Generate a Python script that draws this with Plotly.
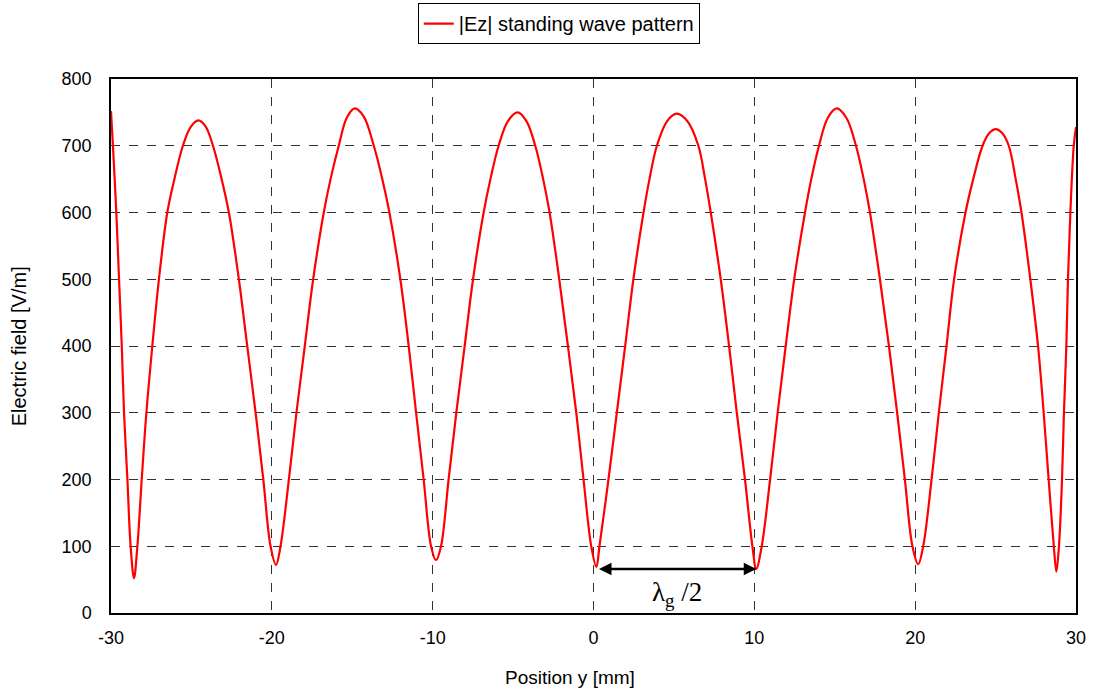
import plotly.graph_objects as go

# Position y [mm] and |Ez| [V/m]
Y_POS = [
    -30.0, -29.88, -29.67, -29.50, -29.33, -29.19, -28.98, -28.78, -28.57,
    -28.36, -28.09, -27.80, -27.43, -27.02, -26.50, -26.06, -25.53, -25.05, -24.57, -24.12,
    -23.66, -23.12, -22.67, -22.05, -21.53, -21.01, -20.53, -20.08, -19.74,
    -19.46, -18.94, -18.47, -17.95, -17.43, -16.77, -16.35, -15.84, -15.34, -14.84, -14.29,
    -13.66, -13.13, -12.69, -12.01, -11.49, -11.03, -10.56, -10.10, -9.79,
    -9.48, -9.01, -8.53, -8.01, -7.49, -6.83, -6.41, -5.90, -5.32, -4.72, -4.17,
    -3.62, -3.13, -2.73, -2.13, -1.59, -1.07, -0.62, -0.14, 0.18,
    0.37, 0.93, 1.45, 1.97, 2.48, 3.11, 3.48, 3.94, 4.58, 5.18, 5.83,
    6.52, 6.94, 7.29, 7.91, 8.43, 8.91, 9.42, 9.88, 10.12,
    10.46, 10.98, 11.45, 11.95, 12.48, 13.15, 13.54, 14.02, 14.57, 15.12, 15.72,
    16.32, 16.80, 17.19, 17.81, 18.37, 18.88, 19.36, 19.83, 20.19,
    20.50, 21.02, 21.47, 21.95, 22.42, 23.13, 23.61, 24.19, 24.61, 25.01, 25.41,
    25.82, 26.25, 26.61, 27.16, 27.64, 27.99, 28.30, 28.62, 28.78,
    28.94, 29.13, 29.25, 29.40, 29.50, 29.65, 29.86, 30.0,
]
E_FIELD = [
    752, 700, 600, 500, 400, 300, 200, 100, 52,
    100, 200, 300, 400, 500, 600, 650, 700, 728, 738, 729,
    700, 650, 600, 500, 400, 300, 200, 100, 72,
    100, 200, 300, 400, 500, 600, 650, 700, 742, 756, 744,
    700, 650, 600, 500, 400, 300, 200, 100, 79,
    100, 200, 300, 400, 500, 600, 650, 700, 737, 750, 737,
    700, 650, 600, 500, 400, 300, 200, 100, 69,
    100, 200, 300, 400, 500, 600, 650, 700, 737, 748, 737,
    700, 650, 600, 500, 400, 300, 200, 100, 66,
    100, 200, 300, 400, 500, 600, 650, 700, 742, 756, 742,
    700, 650, 600, 500, 400, 300, 200, 100, 73,
    100, 200, 300, 400, 500, 600, 650, 700, 719, 725, 719,
    700, 650, 600, 500, 400, 300, 200, 100, 62,
    100, 200, 300, 400, 500, 600, 700, 728,
]

X_TICKS = [-30, -20, -10, 0, 10, 20, 30]
Y_TICKS = [0, 100, 200, 300, 400, 500, 600, 700, 800]

ARROW_START = 0.25
ARROW_END = 10.12
ARROW_LEVEL = 66
LABEL_X = 5.2
LABEL_Y = 28

FONT = "Liberation Sans, Arial, sans-serif"

fig = go.Figure()
fig.add_trace(go.Scatter(
    x=Y_POS, y=E_FIELD, mode="lines",
    name="|Ez| standing wave pattern",
    line=dict(color="#ff0000", width=2.2, shape="spline", smoothing=1.0),
))

axis_common = dict(
    showgrid=True, gridcolor="#333333", gridwidth=1, griddash="dash",
    zeroline=False, showline=True, linecolor="black", linewidth=1.5,
    mirror=True, ticks="", tickfont=dict(family=FONT, size=18, color="black"),
)

fig.update_xaxes(range=[-30, 30], tickvals=X_TICKS, ticktext=[str(v) for v in X_TICKS],
                 ticklabelstandoff=8, **axis_common)
fig.update_yaxes(range=[0, 800], tickvals=Y_TICKS, ticktext=[str(v) for v in Y_TICKS],
                 ticklabelstandoff=14, **axis_common)

fig.add_annotation(
    x=ARROW_END, y=ARROW_LEVEL, ax=ARROW_START, ay=ARROW_LEVEL,
    xref="x", yref="y", axref="x", ayref="y",
    showarrow=True, arrowhead=2, startarrowhead=2, arrowside="end+start",
    arrowsize=1, arrowwidth=2.5, arrowcolor="black", text="",
)
fig.add_annotation(
    x=LABEL_X, y=LABEL_Y, xref="x", yref="y", showarrow=False,
    text="λ<sub>g</sub> /2",
    font=dict(family="Liberation Serif, Times New Roman, serif", size=27, color="black"),
)
fig.add_annotation(
    x=0.476, y=-0.097, xref="paper", yref="paper", showarrow=False,
    text="Position y [mm]", yanchor="top",
    font=dict(family=FONT, size=19, color="black"),
)
fig.add_annotation(
    x=-0.095, y=0.5, xref="paper", yref="paper", showarrow=False,
    text="Electric field [V/m]", textangle=-90, xanchor="center",
    font=dict(family=FONT, size=20, color="black"),
)

fig.update_layout(
    width=1098, height=694,
    margin=dict(l=111, r=22, t=79, b=81, autoexpand=False),
    paper_bgcolor="white", plot_bgcolor="white",
    showlegend=True,
    legend=dict(
        x=0.464, y=1.142, xanchor="center", yanchor="top",
        bordercolor="black", borderwidth=1, bgcolor="white",
        font=dict(family=FONT, size=20, color="black"),
        itemwidth=30,
    ),
)

fig.write_html("out.html")
